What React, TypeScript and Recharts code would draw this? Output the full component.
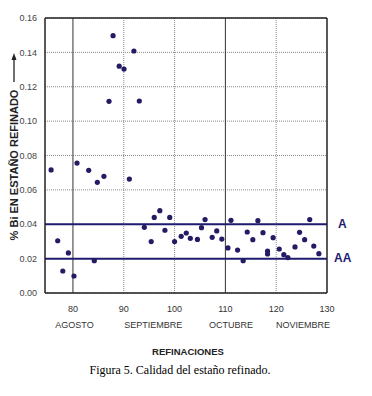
import React from "react";
import {
  ScatterChart,
  Scatter,
  XAxis,
  YAxis,
  CartesianGrid,
  ReferenceLine,
} from "recharts";

// Refinación number (x) and % Bi in refined tin (y)
const refinaciones = [
  75.7, 77.0, 78.0, 79.1, 80.2, 80.8, 83.1, 84.2, 84.8, 86.1, 87.1, 87.9, 89.1,
  90.05, 91.1, 92.0, 93.06, 94.05, 95.4, 96.0, 97.1, 98.1, 99.05, 100.0, 101.3,
  102.3, 103.1, 104.5, 105.3, 106.0, 107.4, 108.3, 109.3, 110.5, 111.1, 112.4,
  113.5, 114.3, 115.4, 116.4, 117.4, 118.3, 118.3, 119.4, 120.6, 121.5, 122.3,
  123.7, 124.6, 125.6, 126.6, 127.4, 128.4,
];
const biPercent = [
  0.0716, 0.0304, 0.0128, 0.0233, 0.0099, 0.0756, 0.0714, 0.0188, 0.0644,
  0.0679, 0.1115, 0.1497, 0.132, 0.1303, 0.0663, 0.1408, 0.1117, 0.0382,
  0.0299, 0.044, 0.0479, 0.0365, 0.044, 0.0299, 0.033, 0.0349, 0.0318, 0.0312,
  0.038, 0.0427, 0.0324, 0.0361, 0.0314, 0.0262, 0.0423, 0.025, 0.0188, 0.0355,
  0.031, 0.0421, 0.0351, 0.0244, 0.0227, 0.0322, 0.0256, 0.0223, 0.0206,
  0.0268, 0.0353, 0.031, 0.0427, 0.0273, 0.0229,
];

const xTicks = [80, 90, 100, 110, 120, 130];
const yTicks = [0, 0.02, 0.04, 0.06, 0.08, 0.1, 0.12, 0.14, 0.16];
const monthPositions = [80.3, 95.8, 111.1, 125.3];
const monthNames = ["AGOSTO", "SEPTIEMBRE", "OCTUBRE", "NOVIEMBRE"];
const gradeLimits = [
  { value: 0.04, name: "A" },
  { value: 0.02, name: "AA" },
];
const verticalGrid = [80, 90, 100, 110, 120];
const darkVerticalGrid = [80, 110];

const data = refinaciones.map((x, i) => ({ x, y: biPercent[i] }));

const SANS = "'Liberation Sans', Arial, sans-serif";
const NAVY = "#1f1c70";
const DOT = "#231b63";

const NumTick = (props: any) => {
  const { x, y, payload } = props;
  return (
    <text x={x} y={y} dy={11} textAnchor="middle" fontFamily={SANS} fontSize={9} fill="#333">
      {payload.value}
    </text>
  );
};

const MonthTick = (props: any) => {
  const { x, y, payload, index } = props;
  return (
    <text x={x} y={y} dy={11} textAnchor="middle" fontFamily={SANS} fontSize={9} fill="#333">
      {monthNames[index] ?? payload.value}
    </text>
  );
};

const YTick = (props: any) => {
  const { x, y, payload } = props;
  return (
    <text x={x} y={y} dy={3.2} textAnchor="end" fontFamily={SANS} fontSize={9} fill="#444">
      {Number(payload.value).toFixed(2)}
    </text>
  );
};

const Dot = (props: any) => {
  const { cx, cy } = props;
  return <circle cx={cx} cy={cy} r={2.6} fill={DOT} />;
};

export default function App() {
  return (
    <div
      style={{
        position: "relative",
        width: 372,
        height: 396,
        marginLeft: -8,
        marginTop: -8,
        background: "#fff",
      }}
    >
      <ScatterChart
        width={372}
        height={396}
        margin={{ top: 18, right: 45, left: 0, bottom: 27 }}
      >
        <CartesianGrid
          vertical={false}
          stroke="#8a8a8a"
          strokeDasharray="1 1"
        />
        {verticalGrid.map((v) => (
          <ReferenceLine
            key={"vg" + v}
            x={v}
            stroke={darkVerticalGrid.includes(v) ? "#333" : "#8a8a8a"}
            strokeDasharray={darkVerticalGrid.includes(v) ? undefined : "1 1"}
            strokeWidth={1}
          />
        ))}
        <XAxis
          type="number"
          dataKey="x"
          domain={[74.5, 130]}
          ticks={xTicks}
          allowDataOverflow
          height={16}
          tickLine={false}
          axisLine={{ stroke: "#222", strokeWidth: 1.5 }}
          tick={<NumTick />}
          interval={0}
        />
        <XAxis
          xAxisId="month"
          type="number"
          dataKey="x"
          domain={[74.5, 130]}
          ticks={monthPositions}
          allowDataOverflow
          height={60}
          tickLine={false}
          axisLine={false}
          tick={<MonthTick />}
          interval={0}
        />
        <YAxis
          type="number"
          dataKey="y"
          domain={[0, 0.16]}
          ticks={yTicks}
          width={45}
          tickLine={false}
          axisLine={{ stroke: "#222", strokeWidth: 1.5 }}
          tick={<YTick />}
          interval={0}
        />
        <ReferenceLine y={0.16} stroke="#222" strokeWidth={1.5} />
        <ReferenceLine x={130} stroke="#222" strokeWidth={1.5} />
        {gradeLimits.map((g) => (
          <ReferenceLine
            key={g.name}
            y={g.value}
            stroke={NAVY}
            strokeWidth={2}
            label={{
              value: g.name,
              position: "right",
              offset: g.name === "A" ? 11 : 7,
              fill: NAVY,
              fontFamily: SANS,
              fontSize: 12,
              fontWeight: "bold",
              dy: -1,
            }}
          />
        ))}
        <Scatter data={data} shape={<Dot />} isAnimationActive={false} />
      </ScatterChart>
      <svg
        width={372}
        height={396}
        style={{ position: "absolute", left: 0, top: 0, pointerEvents: "none" }}
      >
        <text
          transform="translate(18,165) rotate(-90)"
          textAnchor="middle"
          fontFamily={SANS}
          fontSize={11}
          fontWeight="bold"
          fill="#222"
        >
          % Bi EN ESTAÑO REFINADO
        </text>
        <line x1={14} y1={82} x2={14} y2={58} stroke="#222" strokeWidth={1.3} />
        <path d="M14,53 L11.5,60 L16.5,60 Z" fill="#222" />
        <text
          x={188}
          y={354.5}
          textAnchor="middle"
          fontFamily={SANS}
          fontSize={9.5}
          fontWeight="bold"
          fill="#222"
        >
          REFINACIONES
        </text>
        <text
          x={180}
          y={374}
          textAnchor="middle"
          fontFamily="'Liberation Serif', 'Times New Roman', serif"
          fontSize={12}
          fill="#000"
        >
          Figura 5. Calidad del estaño refinado.
        </text>
      </svg>
    </div>
  );
}
